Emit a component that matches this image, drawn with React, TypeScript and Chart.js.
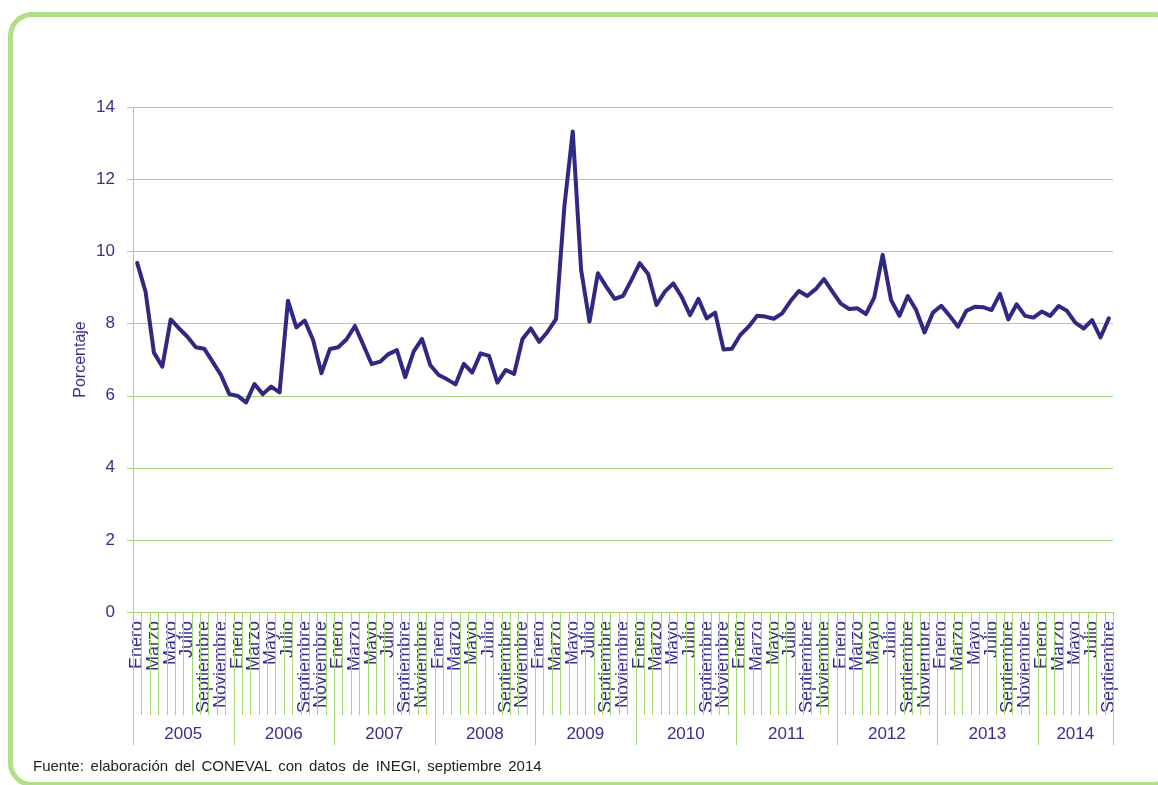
import React, { useEffect, useRef } from "react";
import { Chart, registerables } from "chart.js";

Chart.register(...registerables);

const MONTHS = ["Enero", "Febrero", "Marzo", "Abril", "Mayo", "Junio", "Julio", "Agosto", "Septiembre", "Octubre", "Noviembre", "Diciembre"];
const YEARS = ["2005", "2006", "2007", "2008", "2009", "2010", "2011", "2012", "2013", "2014"];

const v2005 = [9.68, 8.88, 7.19, 6.8, 8.11, 7.86, 7.63, 7.34, 7.3, 6.94, 6.57, 6.04];
const v2006 = [5.99, 5.81, 6.32, 6.04, 6.25, 6.09, 8.63, 7.89, 8.08, 7.54, 6.62, 7.29];
const v2007 = [7.34, 7.56, 7.93, 7.4, 6.87, 6.94, 7.15, 7.26, 6.51, 7.22, 7.57, 6.84];
const v2008 = [6.57, 6.45, 6.31, 6.88, 6.64, 7.17, 7.1, 6.36, 6.71, 6.6, 7.57, 7.86];
const v2009 = [7.49, 7.77, 8.12, 11.24, 13.32, 9.48, 8.05, 9.39, 9.02, 8.68, 8.76, 9.2];
const v2010 = [9.67, 9.37, 8.51, 8.88, 9.11, 8.74, 8.23, 8.68, 8.14, 8.3, 7.28, 7.3];
const v2011 = [7.68, 7.91, 8.21, 8.19, 8.13, 8.28, 8.62, 8.9, 8.76, 8.95, 9.23, 8.88];
const v2012 = [8.55, 8.4, 8.42, 8.26, 8.72, 9.9, 8.65, 8.21, 8.76, 8.37, 7.75, 8.3];
const v2013 = [8.49, 8.21, 7.91, 8.35, 8.46, 8.45, 8.37, 8.82, 8.11, 8.53, 8.21, 8.16];
const v2014 = [8.33, 8.21, 8.48, 8.35, 8.02, 7.86, 8.09, 7.61, 8.14];

const SERIES_BY_YEAR = [v2005, v2006, v2007, v2008, v2009, v2010, v2011, v2012, v2013, v2014];

const Y_MIN = 0;
const Y_MAX = 14;
const Y_STEP = 2;

const LINE_COLOR = "#2f2984";
const TEXT_COLOR = "#35308a";
const GRID_COLOR = "#a6d878";
const FONT = '"Liberation Sans", Arial, sans-serif';

const labels: string[] = [];
const values: number[] = [];
SERIES_BY_YEAR.forEach((arr, yi) => {
  arr.forEach((v, mi) => {
    labels.push(MONTHS[mi] + " " + YEARS[yi]);
    values.push(v);
  });
});

const gridPlugin = {
  id: "greenGrid",
  beforeDatasetsDraw(chart: any) {
    const ys = chart.scales.y;
    const area = chart.chartArea;
    const ctx = chart.ctx;
    ctx.save();
    ctx.strokeStyle = GRID_COLOR;
    ctx.lineWidth = 1;
    ys.ticks.forEach((t: any) => {
      const py = Math.round(ys.getPixelForValue(t.value)) + 0.5;
      ctx.beginPath();
      ctx.moveTo(area.left - 6, py);
      ctx.lineTo(area.right, py);
      ctx.stroke();
    });
    const px = Math.round(area.left) + 0.5;
    ctx.beginPath();
    ctx.moveTo(px, area.top);
    ctx.lineTo(px, area.bottom);
    ctx.stroke();
    ctx.restore();
  },
};

const separatorPlugin = {
  id: "xSeparators",
  afterDraw(chart: any) {
    const xs = chart.scales.x;
    const area = chart.chartArea;
    const ctx = chart.ctx;
    const n = labels.length;
    const step = xs.getPixelForValue(1) - xs.getPixelForValue(0);
    ctx.save();
    ctx.strokeStyle = GRID_COLOR;
    ctx.lineWidth = 1;
    for (let i = 0; i <= n; i++) {
      const px = Math.round(xs.getPixelForValue(i) - step / 2) + 0.5;
      const isYear = i % 12 === 0 || i === n;
      ctx.beginPath();
      ctx.moveTo(px, area.bottom);
      ctx.lineTo(px, area.bottom + (isYear ? 133 : 103));
      ctx.stroke();
    }
    ctx.fillStyle = TEXT_COLOR;
    ctx.font = "17px " + FONT;
    ctx.textAlign = "center";
    ctx.textBaseline = "middle";
    YEARS.forEach((yr, k) => {
      const start = k * 12;
      const end = Math.min(start + 12, n) - 1;
      const cx = (xs.getPixelForValue(start) + xs.getPixelForValue(end)) / 2;
      ctx.fillText(yr, cx, area.bottom + 122);
    });
    ctx.restore();
  },
};

export default function App() {
  const canvasRef = useRef<HTMLCanvasElement | null>(null);

  useEffect(() => {
    if (!canvasRef.current) return;
    const chart = new Chart(canvasRef.current, {
      type: "line",
      data: {
        labels,
        datasets: [
          {
            data: values,
            borderColor: LINE_COLOR,
            borderWidth: 4,
            pointRadius: 0,
            tension: 0,
            borderJoinStyle: "round",
            borderCapStyle: "round",
            fill: false,
          },
        ],
      },
      options: {
        animation: false,
        responsive: false,
        maintainAspectRatio: false,
        layout: { padding: { left: 71, top: 107, right: 45, bottom: 70 } },
        plugins: { legend: { display: false }, tooltip: { enabled: false } },
        scales: {
          x: {
            type: "category",
            offset: true,
            grid: { display: false, drawTicks: false },
            border: { display: false },
            ticks: {
              autoSkip: false,
              minRotation: 90,
              maxRotation: 90,
              padding: 9,
              color: TEXT_COLOR,
              font: { family: FONT, size: 18 },
              callback: (_v: any, idx: number) => (idx % 2 === 0 ? MONTHS[idx % 12] : ""),
            },
            afterFit: (s: any) => {
              s.height = 103;
            },
          },
          y: {
            min: Y_MIN,
            max: Y_MAX,
            grid: { display: false, drawTicks: false },
            border: { display: false },
            ticks: {
              stepSize: Y_STEP,
              padding: 18,
              color: TEXT_COLOR,
              font: { family: FONT, size: 17 },
            },
            title: {
              display: true,
              text: "Porcentaje",
              color: TEXT_COLOR,
              font: { family: FONT, size: 16 },
              padding: 0,
            },
            afterFit: (s: any) => {
              s.width = 62;
            },
          },
        },
      },
      plugins: [gridPlugin, separatorPlugin],
    });
    return () => chart.destroy();
  }, []);

  return (
    <div style={{ position: "fixed", left: 0, top: 0, width: 1158, height: 785, background: "#fff", overflow: "hidden" }}>
      <div
        style={{
          position: "absolute",
          left: 8,
          top: 12,
          width: 1170,
          height: 775,
          border: "5px solid #b3de88",
          borderRadius: 24,
          boxSizing: "border-box",
        }}
      />
      <canvas ref={canvasRef} width={1158} height={785} style={{ position: "absolute", left: 0, top: 0 }} />
      <div
        style={{
          position: "absolute",
          left: 33,
          top: 757,
          fontFamily: FONT,
          fontSize: 15,
          color: "#222",
          whiteSpace: "nowrap",
          wordSpacing: 2.5,
        }}
      >
        Fuente: elaboración del CONEVAL con datos de INEGI, septiembre 2014
      </div>
    </div>
  );
}
